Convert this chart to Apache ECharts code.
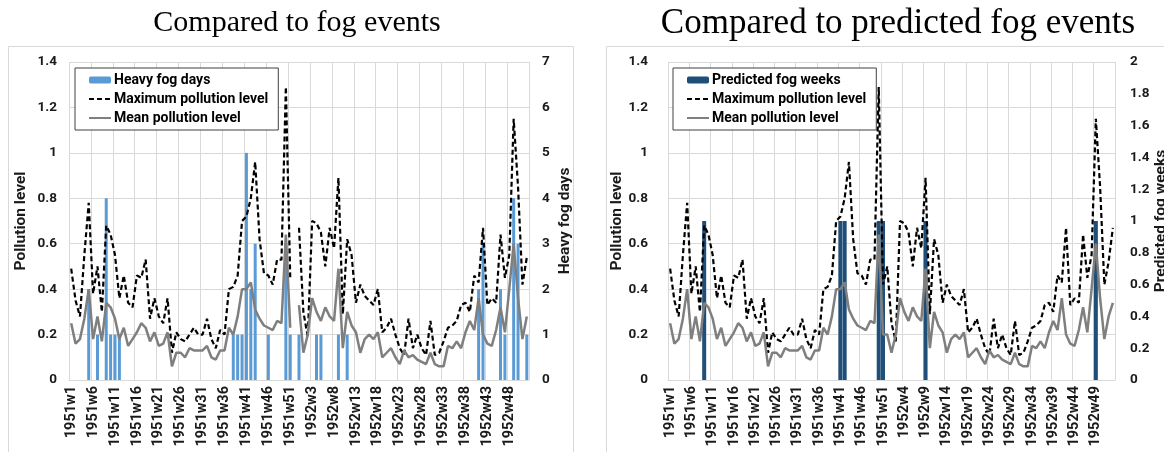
<!DOCTYPE html>
<html>
<head>
<meta charset="utf-8">
<script src="https://cdn.jsdelivr.net/npm/echarts@6/dist/echarts.min.js"></script>
<style>
  html, body { margin: 0; padding: 0; background: #fff; }
  #chart { width: 1164px; height: 452px; }
</style>
</head>
<body>
<div id="chart"></div>
<script>
// week labels, left chart has a 53rd week in 1951
const weekLabels = (year, count) => Array.from({ length: count }, (_, i) => year + 'w' + (i + 1))
const leftWeeks = weekLabels(1951, 53).concat(weekLabels(1952, 52))
const rightWeeks = weekLabels(1951, 52).concat(weekLabels(1952, 53))

const leftMax = [
  0.49, 0.35, 0.28, 0.55, 0.78, 0.38, 0.50, 0.30, 0.68, 0.64,
  0.55, 0.36, 0.46, 0.34, 0.32, 0.46, 0.45, 0.53, 0.27, 0.36,
  0.28, 0.25, 0.36, 0.12, 0.21, 0.18, 0.17, 0.20, 0.23, 0.20,
  0.20, 0.27, 0.18, 0.14, 0.22, 0.20, 0.40, 0.41, 0.46, 0.70,
  0.72, 0.80, 0.96, 0.62, 0.47, 0.46, 0.42, 0.53, 0.53, 1.29,
  0.45, null, 0.67, 0.30, 0.19, 0.70, 0.69, 0.65, 0.50, 0.67,
  0.58, 0.89, 0.29, 0.62, 0.55, 0.34, 0.42, 0.37, 0.35, 0.33,
  0.40, 0.21, 0.23, 0.27, 0.20, 0.14, 0.11, 0.27, 0.14, 0.20,
  0.14, 0.11, 0.26, 0.11, 0.12, 0.17, 0.23, 0.24, 0.26, 0.33,
  0.34, 0.30, 0.46, 0.43, 0.67, 0.33, 0.36, 0.34, 0.64, 0.45,
  0.55, 1.15, 0.85, 0.42, 0.54
]
const leftMean = [
  0.25, 0.16, 0.18, 0.27, 0.40, 0.18, 0.28, 0.17, 0.34, 0.32,
  0.27, 0.18, 0.23, 0.15, 0.18, 0.21, 0.25, 0.23, 0.17, 0.21,
  0.15, 0.16, 0.21, 0.06, 0.12, 0.12, 0.10, 0.14, 0.13, 0.13,
  0.13, 0.15, 0.10, 0.09, 0.13, 0.13, 0.23, 0.20, 0.28, 0.40,
  0.40, 0.43, 0.31, 0.27, 0.24, 0.23, 0.22, 0.26, 0.25, 0.64,
  0.23, null, 0.33, 0.12, 0.20, 0.36, 0.30, 0.26, 0.32, 0.28,
  0.26, 0.49, 0.14, 0.30, 0.24, 0.21, 0.12, 0.18, 0.20, 0.18,
  0.21, 0.10, 0.12, 0.14, 0.10, 0.07, 0.13, 0.10, 0.11, 0.09,
  0.08, 0.07, 0.12, 0.07, 0.06, 0.06, 0.15, 0.14, 0.17, 0.14,
  0.21, 0.26, 0.22, 0.36, 0.20, 0.16, 0.15, 0.22, 0.32, 0.21,
  0.40, 0.60, 0.36, 0.18, 0.28
]
const rightMax = [
  0.49, 0.35, 0.28, 0.55, 0.78, 0.38, 0.50, 0.30, 0.68, 0.64,
  0.55, 0.36, 0.46, 0.34, 0.32, 0.46, 0.45, 0.53, 0.27, 0.36,
  0.28, 0.25, 0.36, 0.12, 0.21, 0.18, 0.17, 0.20, 0.23, 0.20,
  0.20, 0.27, 0.18, 0.14, 0.22, 0.20, 0.40, 0.41, 0.46, 0.70,
  0.72, 0.80, 0.96, 0.62, 0.47, 0.46, 0.42, 0.53, 0.53, 1.29,
  0.42, 0.50, 0.25, 0.17, 0.70, 0.69, 0.65, 0.50, 0.67, 0.58,
  0.89, 0.29, 0.62, 0.55, 0.34, 0.42, 0.37, 0.35, 0.33, 0.40,
  0.21, 0.23, 0.27, 0.20, 0.14, 0.11, 0.27, 0.14, 0.20, 0.14,
  0.11, 0.26, 0.11, 0.12, 0.17, 0.23, 0.24, 0.26, 0.33, 0.34,
  0.30, 0.46, 0.43, 0.67, 0.33, 0.36, 0.34, 0.64, 0.45, 0.55,
  1.15, 0.85, 0.42, 0.52, 0.67
]
const rightMean = [
  0.25, 0.16, 0.18, 0.27, 0.40, 0.18, 0.28, 0.17, 0.34, 0.32,
  0.27, 0.18, 0.23, 0.15, 0.18, 0.21, 0.25, 0.23, 0.17, 0.21,
  0.15, 0.16, 0.21, 0.06, 0.12, 0.12, 0.10, 0.14, 0.13, 0.13,
  0.13, 0.15, 0.10, 0.09, 0.13, 0.13, 0.23, 0.20, 0.28, 0.40,
  0.40, 0.43, 0.31, 0.27, 0.24, 0.23, 0.22, 0.26, 0.25, 0.64,
  0.20, 0.20, 0.12, 0.20, 0.36, 0.30, 0.26, 0.32, 0.28, 0.26,
  0.49, 0.14, 0.30, 0.24, 0.21, 0.12, 0.18, 0.20, 0.18, 0.21,
  0.10, 0.12, 0.14, 0.10, 0.07, 0.13, 0.10, 0.11, 0.09, 0.08,
  0.07, 0.12, 0.07, 0.06, 0.06, 0.15, 0.14, 0.17, 0.14, 0.21,
  0.26, 0.22, 0.36, 0.20, 0.16, 0.15, 0.22, 0.32, 0.21, 0.40,
  0.60, 0.36, 0.18, 0.28, 0.34
]

const fogDayWeeks = ['1951w5', '1951w7', '1951w9', '1951w10', '1951w11', '1951w12',
  '1951w38', '1951w39', '1951w40', '1951w41', '1951w42', '1951w43', '1951w46',
  '1951w50', '1951w51', '1951w53', '1952w4', '1952w5', '1952w9', '1952w11',
  '1952w41', '1952w42', '1952w46', '1952w47', '1952w49', '1952w50', '1952w52']
const fogDays = [2, 1, 4, 1, 1, 1,
  1, 1, 1, 5, 2, 3, 1,
  3, 1, 1, 1, 1, 1, 1,
  2, 3, 2, 1, 4, 3, 1]

const predictedWeeks = ['1951w9', '1951w41', '1951w42', '1951w50', '1951w51', '1952w9', '1952w49']
const predictedValue = 1

const fogDayData = leftWeeks.map(w => {
  const k = fogDayWeeks.indexOf(w)
  return k >= 0 ? fogDays[k] : 0
})
const predictedData = rightWeeks.map(w => predictedWeeks.includes(w) ? predictedValue : 0)

const font = 'Roboto, "Liberation Sans", sans-serif'
const gridColor = '#d9d9d9'
const tickText = { fontFamily: font, fontWeight: 'bold', fontSize: 13.5, color: '#1a1a1a' }

const makeX = (gridIndex, data) => ({
  type: 'category',
  gridIndex,
  data,
  boundaryGap: true,
  axisTick: { show: false },
  axisLine: { lineStyle: { color: gridColor } },
  axisLabel: { ...tickText, fontSize: 14.5, rotate: 90, interval: 4, margin: 6 },
  splitLine: { show: true, interval: 4, lineStyle: { color: gridColor } }
})

const makeY = (gridIndex, position, max, interval, name, nameGap, margin, showSplit) => ({
  type: 'value',
  gridIndex,
  position,
  min: 0,
  max,
  interval,
  name,
  nameLocation: 'middle',
  nameRotate: 90,
  nameGap,
  nameTextStyle: { fontFamily: font, fontWeight: 'bold', fontSize: 15.5, color: '#1a1a1a' },
  axisLine: { show: false },
  axisTick: { show: false },
  axisLabel: { ...tickText, margin },
  splitLine: { show: showSplit, lineStyle: { color: gridColor } }
})

// hide the dot that line series put in the middle of their legend icon
const lineItem = name => ({ name, itemStyle: { opacity: 0 } })

const legendBase = {
  orient: 'vertical',
  top: 68,
  padding: [5, 10, 5, 13],
  itemGap: 5,
  itemWidth: 22,
  itemHeight: 7,
  backgroundColor: '#fff',
  borderColor: '#404040',
  borderWidth: 1,
  selectedMode: false,
  textStyle: { fontFamily: font, fontWeight: 'bold', fontSize: 14, color: '#000', padding: [0, 0, 0, -2] }
}

const titleStyle = { fontFamily: '"Liberation Serif", serif', fontWeight: 'normal', fontSize: 30, color: '#000' }

const maxLine = { color: '#000', width: 2.2, type: [5, 3] }
const meanLine = { color: '#7f7f7f', width: 2.5 }

const chart = echarts.init(document.getElementById('chart'))

const option = {
  animation: false,
  backgroundColor: '#fff',
  title: [
    { text: 'Compared to fog events', left: 292, top: 3, textAlign: 'center', textStyle: titleStyle },
    { text: 'Compared to predicted fog events', left: 893, top: 1, textAlign: 'center', textStyle: { ...titleStyle, fontSize: 35 } }
  ],
  graphic: [
    { type: 'rect', silent: true, z: -10, shape: { x: 8.5, y: 46.5, width: 565, height: 420 }, style: { fill: 'none', stroke: gridColor } },
    { type: 'rect', silent: true, z: -10, shape: { x: 606.5, y: 46.5, width: 570, height: 420 }, style: { fill: 'none', stroke: gridColor } }
  ],
  legend: [
    { ...legendBase, left: 75, data: ['Heavy fog days', lineItem('Maximum pollution level'), lineItem('Mean pollution level')] },
    { ...legendBase, left: 673, data: ['Predicted fog weeks', lineItem('Maximum pollution level'), lineItem('Mean pollution level')] }
  ],
  grid: [
    { left: 69, top: 62, width: 460, height: 318, outerBoundsMode: 'none' },
    { left: 668, top: 62, width: 447, height: 318, outerBoundsMode: 'none' }
  ],
  xAxis: [makeX(0, leftWeeks), makeX(1, rightWeeks)],
  yAxis: [
    makeY(0, 'left', 1.4, 0.2, 'Pollution level', 40, 12, true),
    makeY(0, 'right', 7, 1, 'Heavy fog days', 28, 13, false),
    makeY(1, 'left', 1.4, 0.2, 'Pollution level', 42, 20, true),
    makeY(1, 'right', 2, 0.2, 'Predicted fog weeks', 35, 15, false)
  ],
  series: [
    { name: 'Heavy fog days', type: 'bar', xAxisIndex: 0, yAxisIndex: 1, barWidth: 3, data: fogDayData, itemStyle: { color: '#5b9bd5' } },
    { name: 'Maximum pollution level', type: 'line', xAxisIndex: 0, yAxisIndex: 0, symbol: 'none', data: leftMax, lineStyle: maxLine, itemStyle: { color: '#000' } },
    { name: 'Mean pollution level', type: 'line', xAxisIndex: 0, yAxisIndex: 0, symbol: 'none', data: leftMean, lineStyle: meanLine, itemStyle: { color: '#7f7f7f' } },
    { name: 'Predicted fog weeks', type: 'bar', xAxisIndex: 1, yAxisIndex: 3, barWidth: 4, data: predictedData, itemStyle: { color: '#1f4e79' } },
    { name: 'Maximum pollution level', type: 'line', xAxisIndex: 1, yAxisIndex: 2, symbol: 'none', data: rightMax, lineStyle: maxLine, itemStyle: { color: '#000' } },
    { name: 'Mean pollution level', type: 'line', xAxisIndex: 1, yAxisIndex: 2, symbol: 'none', data: rightMean, lineStyle: meanLine, itemStyle: { color: '#7f7f7f' } }
  ]
}

chart.setOption(option)
</script>
</body>
</html>
